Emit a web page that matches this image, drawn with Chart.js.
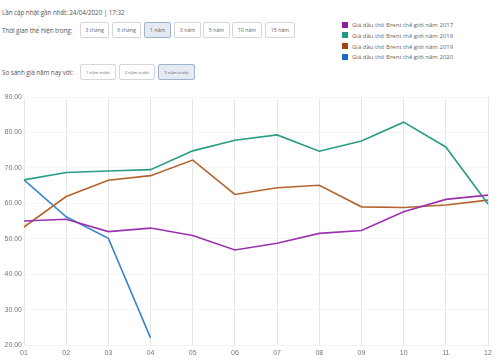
<!DOCTYPE html>
<html>
<head>
<meta charset="utf-8">
<script src="https://cdn.jsdelivr.net/npm/chart.js@4/dist/chart.umd.min.js"></script>
<style>
  body { margin: 0; width: 500px; height: 361px; background: #fff; position: relative; overflow: hidden; font-family: "Open Sans", sans-serif; color: #555; }
  .row { position: absolute; left: 2px; font-size: 6.4px; white-space: nowrap; letter-spacing: -0.1px; }
  .btn { position: absolute; height: 16px; border: 1px solid #d6d6d6; border-radius: 2px; background: #fff; font-size: 5.3px; color: #666; text-align: center; line-height: 15px; box-sizing: border-box; }
  .btn.on { background: #e4eaf1; border-color: #9fb3c9; }
  #chartBox { position: absolute; left: 0; top: 85px; width: 500px; height: 276px; }
  #legend { position: absolute; left: 342px; top: 20px; font-size: 6px; color: #666; }
  #legend div { height: 10.8px; line-height: 10.8px; white-space: nowrap; }
  #legend span { display: inline-block; width: 6px; height: 6px; margin-right: 4px; vertical-align: -0.5px; }
</style>
</head>
<body>
<div class="row" style="top:8px">Lần cập nhật gần nhất: 24/04/2020 | 17:32</div>
<div class="row" style="top:26px">Thời gian thể hiện trong:</div>
<div class="btn" style="left:80px;top:22px;width:29px">3 tháng</div>
<div class="btn" style="left:112px;top:22px;width:29px">6 tháng</div>
<div class="btn on" style="left:144px;top:22px;width:27px">1 năm</div>
<div class="btn" style="left:174px;top:22px;width:27px">3 năm</div>
<div class="btn" style="left:203px;top:22px;width:27px">5 năm</div>
<div class="btn" style="left:232px;top:22px;width:30px">10 năm</div>
<div class="btn" style="left:265px;top:22px;width:30px">15 năm</div>
<div class="row" style="top:68px">So sánh giá năm nay với:</div>
<div class="btn" style="left:80px;top:64px;width:36px;font-size:4.3px">1 năm trước</div>
<div class="btn" style="left:119px;top:64px;width:36px;font-size:4.3px">2 năm trước</div>
<div class="btn on" style="left:158px;top:64px;width:37px;font-size:4.3px">3 năm trước</div>
<div id="legend"></div>
<div id="chartBox"><canvas id="brentChart"></canvas></div>

<script>
// Datos (USD/thùng)
const months = ["01", "02", "03", "04", "05", "06", "07", "08", "09", "10", "11", "12"];
const yTicks = [20, 30, 40, 50, 60, 70, 80, 90];
const brent2017 = [55.0, 55.5, 52.0, 53.0, 50.9, 46.8, 48.7, 51.5, 52.3, 57.6, 61.1, 62.3];
const brent2018 = [66.6, 68.7, 69.1, 69.5, 74.8, 77.8, 79.3, 74.7, 77.6, 82.9, 75.9, 59.8];
const brent2019 = [53.3, 61.9, 66.5, 67.8, 72.2, 62.5, 64.4, 65.1, 59.0, 58.8, 59.5, 60.9];
const brent2020 = [66.6, 56.2, 50.1, 22.0];

const seriesNames = [
  "Giá dầu thô Brent thế giới năm 2017",
  "Giá dầu thô Brent thế giới năm 2018",
  "Giá dầu thô Brent thế giới năm 2019",
  "Giá dầu thô Brent thế giới năm 2020",
];
const lineColors = ["#9a32ad", "#2b9c86", "#b3652f", "#3c85cb"];
const boxColors = ["#8a1e9e", "#1f9a80", "#a2431b", "#1f66c6"];

document.addEventListener("DOMContentLoaded", function () {
  const data = [brent2017, brent2018, brent2019, brent2020];

  const chart = new Chart(document.getElementById("brentChart"), {
    type: "line",
    data: {
      labels: months,
      datasets: data.map((values, i) => ({
        label: seriesNames[i],
        data: values,
        borderColor: lineColors[i],
        backgroundColor: boxColors[i],
        borderWidth: 1.6,
        pointRadius: 0,
        fill: false,
        tension: 0,
      })),
    },
    options: {
      responsive: true,
      maintainAspectRatio: false,
      animation: false,
      layout: { padding: { top: 12, right: 12, bottom: 2, left: 0 } },
      plugins: { legend: { display: false }, tooltip: { enabled: false } },
      scales: {
        x: {
          offset: false,
          grid: { color: "#e6e6e6", drawTicks: false },
          border: { display: false },
          ticks: { color: "#777", font: { size: 7 }, padding: 4, maxRotation: 0, autoSkip: false },
          afterFit: (scale) => { scale.height = 14; },
        },
        y: {
          min: yTicks[0],
          max: yTicks[yTicks.length - 1],
          afterBuildTicks: (scale) => { scale.ticks = yTicks.map((v) => ({ value: v })); },
          grid: { color: "#f4f4f4", drawTicks: false },
          border: { display: false },
          ticks: { color: "#777", font: { size: 7 }, padding: 2, callback: (v) => v.toFixed(2) },
          afterFit: (scale) => { scale.width = 24; },
        },
      },
    },
  });

  // Leyenda en HTML a partir de los datasets
  const legend = document.getElementById("legend");
  chart.data.datasets.forEach((ds) => {
    const item = document.createElement("div");
    item.innerHTML = '<span style="background:' + ds.backgroundColor + '"></span>' + ds.label;
    legend.appendChild(item);
  });
});
</script>
</body>
</html>
